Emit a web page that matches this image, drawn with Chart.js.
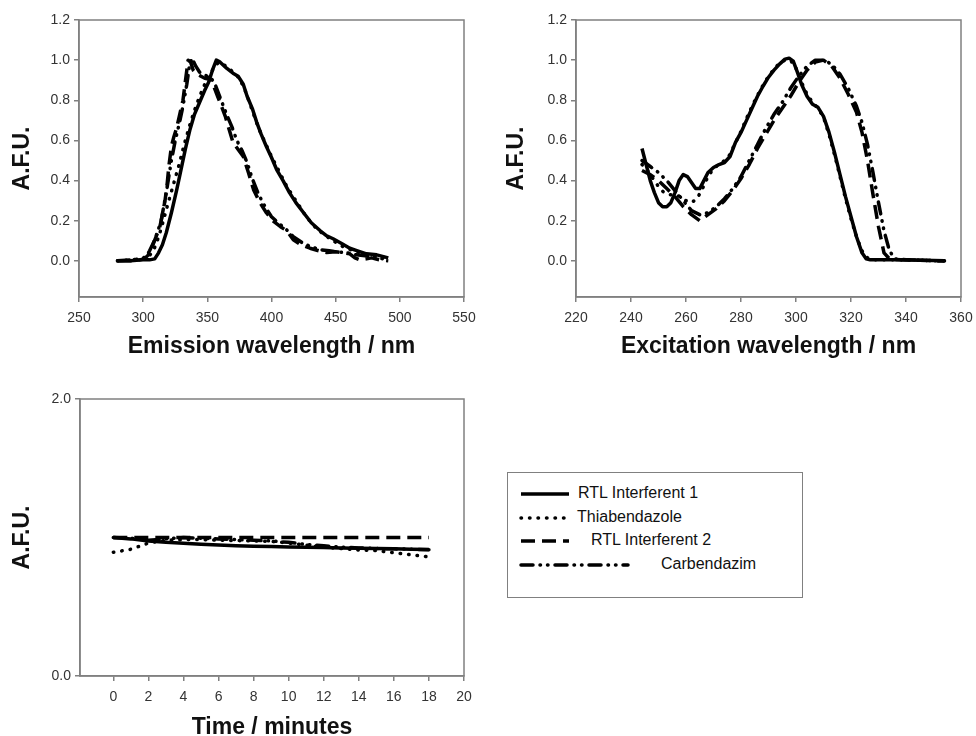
<!DOCTYPE html>
<html>
<head>
<meta charset="utf-8">
<script src="https://cdn.jsdelivr.net/npm/chart.js@4.4.1/dist/chart.umd.min.js"></script>
<style>
  body { margin: 0; width: 976px; height: 736px; overflow: hidden; background: #fff; position: relative;
         font-family: Arial, "Liberation Sans", sans-serif; }
  canvas { position: absolute; }
  #legend { position: absolute; left: 507px; top: 472px; width: 296px; height: 126px;
            box-sizing: border-box; border: 1.5px solid #808080; background: #fff; }
  #legend svg { position: absolute; left: 0; top: 0; }
  #legend span { position: absolute; font-size: 16px; line-height: 18px; color: #111; white-space: nowrap; }
</style>
</head>
<body>
<canvas id="emChart" width="480" height="370" style="left:0;top:0"></canvas>
<canvas id="exChart" width="496" height="370" style="left:480px;top:0"></canvas>
<canvas id="timeChart" width="480" height="370" style="left:0;top:380px"></canvas>
<div id="legend"></div>

<script>
// series names (same order in every panel)
const seriesNames = ["RTL Interferent 1", "Thiabendazole", "RTL Interferent 2", "Carbendazim"];

// --- emission spectra (nm / A.F.U.) ---
const emWlRtl1 = [280, 290, 300, 305, 309, 312, 315, 318, 322, 326, 329, 333, 336.5, 340, 344, 348, 351, 354, 357, 360, 365, 370, 374, 378, 381, 385, 388.5, 392, 396, 400, 404, 409, 414, 419, 425, 431, 438, 443, 448, 455, 461, 467, 474, 482, 491];
const emRtl1   = [0.0, 0.0, 0.005, 0.005, 0.01, 0.04, 0.08, 0.14, 0.24, 0.35, 0.44, 0.56, 0.655, 0.73, 0.79, 0.85, 0.89, 0.95, 1.0, 0.99, 0.96, 0.935, 0.92, 0.88, 0.82, 0.76, 0.69, 0.63, 0.57, 0.515, 0.455, 0.4, 0.34, 0.29, 0.24, 0.19, 0.15, 0.125, 0.11, 0.085, 0.063, 0.05, 0.035, 0.03, 0.015];

const emWlThia = [280, 290, 300, 304, 308, 311, 314, 317, 320, 324, 328, 332, 336, 340, 344, 348, 352, 356, 359, 362, 366, 370, 375, 380, 385, 390, 395, 400, 406, 412, 418, 425, 432, 440, 448, 456, 464, 472, 480, 490];
const emThia   = [0.0, 0.005, 0.01, 0.02, 0.05, 0.1, 0.16, 0.23, 0.3, 0.39, 0.48, 0.58, 0.67, 0.75, 0.82, 0.88, 0.93, 0.97, 0.99, 0.98, 0.965, 0.94, 0.91, 0.84, 0.75, 0.66, 0.59, 0.52, 0.445, 0.37, 0.31, 0.24, 0.18, 0.135, 0.1, 0.07, 0.05, 0.035, 0.025, 0.015];

const emWlRtl2 = [280, 290, 297, 301, 304, 307, 310, 313, 315, 317, 318.5, 320, 322, 324, 326, 328.5, 331, 333, 335, 337, 339, 342, 345, 348, 352, 355, 358, 361, 364, 367, 370, 374, 378, 382, 386, 391, 396, 401, 407, 412, 417, 423, 430, 437, 443, 450, 456, 461, 465, 469, 474, 478, 484, 491];
const emRtl2   = [0.0, 0.0, 0.005, 0.01, 0.03, 0.07, 0.12, 0.17, 0.23, 0.3, 0.37, 0.47, 0.57, 0.62, 0.66, 0.73, 0.8, 0.9, 1.0, 0.99, 0.95, 0.93, 0.92, 0.91, 0.905, 0.87, 0.82, 0.77, 0.72, 0.655, 0.59, 0.555, 0.52, 0.44, 0.355, 0.29, 0.24, 0.2, 0.17, 0.15, 0.105, 0.08, 0.063, 0.05, 0.042, 0.045, 0.04, 0.035, 0.015, 0.005, 0.01, 0.015, 0.005, 0.0];

const emWlCarb = [280, 290, 298, 302, 305, 308, 311, 314, 316, 318, 320, 322, 325, 328, 331, 334, 336, 338, 341, 344, 347, 350, 353, 356, 359, 362, 365, 369, 373, 377, 381, 385, 390, 395, 400, 405, 411, 417, 424, 431, 438, 445, 452, 459, 466, 473, 480, 487, 491];
const emCarb   = [0.0, 0.005, 0.01, 0.02, 0.05, 0.09, 0.14, 0.2, 0.27, 0.34, 0.42, 0.5, 0.6, 0.68, 0.77, 0.88, 0.97, 1.01, 0.97, 0.94, 0.93, 0.92, 0.91, 0.88, 0.83, 0.78, 0.73, 0.67, 0.6, 0.55, 0.49, 0.41, 0.33, 0.27, 0.22, 0.19, 0.16, 0.12, 0.09, 0.07, 0.055, 0.05, 0.045, 0.04, 0.03, 0.025, 0.02, 0.01, 0.005];

// --- excitation spectra ---
const exWlRtl1 = [244, 245.5, 247, 248.5, 250, 251.5, 253, 254.5, 256, 257.5, 259, 260.5, 262, 263.5, 265, 266.5, 268, 270, 272, 274, 276, 278, 280, 282, 284, 286, 288, 290, 292, 294, 296, 297.5, 299, 300.5, 302, 304, 306, 308, 310, 312, 314, 316, 318, 320, 322, 324, 325.5, 327, 330, 335, 340, 345, 350, 354];
const exRtl1   = [0.56, 0.48, 0.40, 0.34, 0.29, 0.27, 0.27, 0.29, 0.34, 0.40, 0.43, 0.42, 0.39, 0.36, 0.36, 0.40, 0.44, 0.465, 0.48, 0.49, 0.52, 0.59, 0.64, 0.70, 0.76, 0.82, 0.87, 0.915, 0.95, 0.98, 1.005, 1.01, 0.995, 0.94, 0.88, 0.82, 0.78, 0.765, 0.72, 0.64, 0.54, 0.43, 0.32, 0.22, 0.12, 0.04, 0.01, 0.005, 0.005, 0.005, 0.005, 0.003, 0.002, 0.0];

const exWlThia = [244, 246, 248, 250, 252, 254, 256, 258, 260, 262, 264, 266, 268, 270, 272, 274, 276, 278, 280, 282, 284, 286, 288, 290, 292, 294, 296, 298, 300, 302, 304, 306, 308, 310, 312, 314, 316, 318, 320, 322, 324, 326, 328, 332, 338, 345, 354];
const exThia   = [0.48, 0.45, 0.41, 0.37, 0.34, 0.33, 0.33, 0.32, 0.30, 0.29, 0.31, 0.36, 0.42, 0.46, 0.48, 0.50, 0.53, 0.59, 0.645, 0.71, 0.77, 0.825, 0.875, 0.92, 0.955, 0.985, 1.0, 1.0, 0.96, 0.89, 0.83, 0.79, 0.76, 0.715, 0.63, 0.53, 0.42, 0.31, 0.21, 0.12, 0.05, 0.015, 0.005, 0.005, 0.005, 0.003, 0.0];

const exWlRtl2 = [244, 247, 250, 253, 256, 259, 262, 265, 268, 271, 274, 277, 280, 283, 286, 289, 292, 295, 298, 301, 304, 307, 310, 313, 316, 319, 322, 324, 326, 328, 330, 332, 334, 338, 345, 354];
const exRtl2   = [0.45, 0.43, 0.40, 0.36, 0.32, 0.27, 0.23, 0.20, 0.23, 0.26, 0.30, 0.35, 0.41, 0.48, 0.56, 0.63, 0.70, 0.76, 0.82, 0.89, 0.95, 0.99, 1.0, 0.97, 0.91, 0.83, 0.74, 0.64, 0.50, 0.33, 0.17, 0.04, 0.01, 0.005, 0.003, 0.0];

const exWlCarb = [244, 247, 250, 253, 256, 259, 262, 265, 268, 271, 274, 277, 280, 283, 286, 289, 292, 295, 298, 301, 304, 307, 310, 313, 316, 319, 322, 324, 326, 328, 330, 332, 334, 336, 340, 347, 354];
const exCarb   = [0.50, 0.47, 0.44, 0.40, 0.35, 0.30, 0.25, 0.23, 0.24, 0.27, 0.31, 0.36, 0.42, 0.50, 0.58, 0.66, 0.73, 0.79, 0.86, 0.92, 0.97, 1.0, 1.0, 0.98, 0.93, 0.86, 0.77, 0.69, 0.58, 0.44, 0.29, 0.15, 0.05, 0.01, 0.005, 0.003, 0.0];

// --- stability over time ---
const timeMin  = [0, 1, 2, 3, 4, 5, 6, 7, 8, 9, 10, 11, 12, 13, 14, 15, 16, 17, 18];
const tRtl1    = [1.0, 0.99, 0.975, 0.965, 0.958, 0.952, 0.945, 0.94, 0.937, 0.935, 0.932, 0.93, 0.927, 0.925, 0.922, 0.92, 0.918, 0.915, 0.913];
const tThia    = [0.893, 0.915, 0.96, 0.98, 0.985, 0.985, 0.98, 0.978, 0.975, 0.972, 0.96, 0.945, 0.93, 0.92, 0.91, 0.905, 0.89, 0.875, 0.86];
const tRtl2    = [1.0, 1.0, 1.0, 1.0, 1.0, 1.0, 1.0, 1.0, 1.0, 1.0, 1.0, 1.0, 1.0, 1.0, 1.0, 1.0, 1.0, 1.0, 1.0];
const tCarb    = [1.0, 0.995, 0.98, 0.99, 1.0, 0.995, 0.99, 0.985, 0.98, 0.975, 0.965, 0.95, 0.94, 0.93, 0.925, 0.92, 0.918, 0.915, 0.912];

// tick labels
const emTicksX   = [250, 300, 350, 400, 450, 500, 550];
const exTicksX   = [220, 240, 260, 280, 300, 320, 340, 360];
const specTicksY = [0.0, 0.2, 0.4, 0.6, 0.8, 1.0, 1.2];
const timeTicksX = [0, 2, 4, 6, 8, 10, 12, 14, 16, 18, 20];
const timeTicksY = [0.0, 2.0];

const FONT = 'Arial, "Liberation Sans", sans-serif';
const AXIS_GREY = '#808080';

// line looks: solid, dotted, dashed, dash-dot
const lineStyles = [
  { dash: [], cap: 'butt' },
  { dash: [0.5, 8], cap: 'round' },
  { dash: [14, 7], cap: 'butt' },
  { dash: [12, 7, 0.5, 7, 0.5, 7], cap: 'round' }
];

function xy(xs, ys) {
  return xs.map((x, i) => ({ x: x, y: ys[i] }));
}

function makeDatasets(list) {
  return list.map((pts, i) => ({
    label: seriesNames[i],
    data: pts,
    borderColor: '#000',
    borderWidth: 3.5,
    borderDash: lineStyles[i].dash,
    borderCapStyle: lineStyles[i].cap,
    borderJoinStyle: 'round',
    pointRadius: 0,
    tension: 0,
    fill: false
  }));
}

function axis(isY, min, max, tickVals, fmt, title, titlePad, fitSize) {
  return {
    type: 'linear',
    min: min,
    max: max,
    afterBuildTicks: s => { s.ticks = tickVals.map(v => ({ value: v })); },
    afterFit: s => {
      if (isY) {
        s.width = fitSize;
      } else {
        // plot box comes from layout padding, not from the end labels
        s.height = fitSize;
        s.paddingLeft = 0;
        s.paddingRight = 0;
      }
    },
    grid: { drawOnChartArea: false, drawTicks: true, tickLength: 5, color: AXIS_GREY, lineWidth: 1.5 },
    border: { color: AXIS_GREY, width: 1.5 },
    ticks: { color: '#333', font: { size: 14, family: FONT }, padding: isY ? 4 : 8,
             autoSkip: false, maxRotation: 0, callback: fmt },
    title: { display: true, text: title, color: '#111',
             font: { size: 23, weight: 'bold', family: FONT },
             padding: isY ? { top: titlePad } : { bottom: titlePad } }
  };
}

// grey box round the plot area
const framePlugin = {
  id: 'frame',
  beforeDatasetsDraw(chart) {
    const { ctx, chartArea: a } = chart;
    ctx.save();
    ctx.strokeStyle = AXIS_GREY;
    ctx.lineWidth = 1.5;
    ctx.strokeRect(a.left, a.top, a.right - a.left, a.bottom - a.top);
    ctx.restore();
  }
};

function buildChart(id, datasets, xScale, yScale, padding) {
  const ctx = document.getElementById(id).getContext('2d');
  return new Chart(ctx, {
    type: 'line',
    data: { datasets: datasets },
    options: {
      responsive: false,
      animation: false,
      devicePixelRatio: 1,
      layout: { padding: padding },
      plugins: { legend: { display: false }, tooltip: { enabled: false } },
      scales: { x: xScale, y: yScale }
    },
    plugins: [framePlugin]
  });
}

const one = v => v.toFixed(1);

// Emission panel
buildChart('emChart',
  makeDatasets([xy(emWlRtl1, emRtl1), xy(emWlThia, emThia), xy(emWlRtl2, emRtl2), xy(emWlCarb, emCarb)]),
  axis(false, 250, 550, emTicksX, v => String(v), 'Emission wavelength / nm', 10, 73),
  axis(true, -0.18, 1.2, specTicksY, one, 'A.F.U.', 9, 79),
  { top: 20, right: 16, left: 0, bottom: 0 });

// Excitation panel
buildChart('exChart',
  makeDatasets([xy(exWlRtl1, exRtl1), xy(exWlThia, exThia), xy(exWlRtl2, exRtl2), xy(exWlCarb, exCarb)]),
  axis(false, 220, 360, exTicksX, v => String(v), 'Excitation wavelength / nm', 10, 73),
  axis(true, -0.18, 1.2, specTicksY, one, 'A.F.U.', 23, 96),
  { top: 20, right: 15, left: 0, bottom: 0 });

// Time panel
buildChart('timeChart',
  makeDatasets([xy(timeMin, tRtl1), xy(timeMin, tThia), xy(timeMin, tRtl2), xy(timeMin, tCarb)]),
  axis(false, -1.9, 20, timeTicksX, v => String(v), 'Time / minutes', 9, 74),
  axis(true, 0, 2, timeTicksY, one, 'A.F.U.', 9, 80),
  { top: 19, right: 16, left: 0, bottom: 0 });

// legend box (HTML, line samples in svg)
const legendRowsY = [21, 45, 68, 92];
const legendTextX = [70, 69, 83, 153];
const legendLineEnd = [61, 61, 61, 120];
const legend = document.getElementById('legend');
let svg = '<svg width="296" height="126">';
seriesNames.forEach((name, i) => {
  const st = lineStyles[i];
  svg += '<line x1="13" x2="' + legendLineEnd[i] + '" y1="' + legendRowsY[i] + '" y2="' + legendRowsY[i] +
         '" stroke="#000" stroke-width="3.5" stroke-linecap="' + st.cap + '"' +
         (st.dash.length ? ' stroke-dasharray="' + st.dash.join(' ') + '"' : '') + '/>';
});
svg += '</svg>';
let html = svg;
seriesNames.forEach((name, i) => {
  html += '<span style="left:' + legendTextX[i] + 'px;top:' + (legendRowsY[i] - 10) + 'px">' + name + '</span>';
});
legend.innerHTML = html;
</script>
</body>
</html>
